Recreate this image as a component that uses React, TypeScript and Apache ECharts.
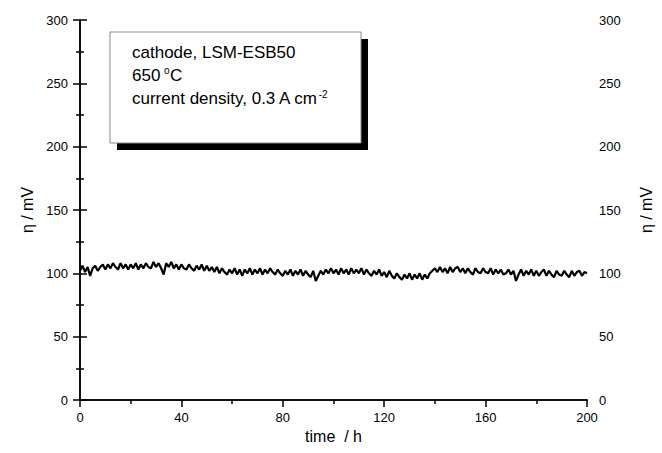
import React, { useEffect, useRef } from "react";
import * as echarts from "echarts";

const timeH: number[] = Array.from({ length: 201 }, (_, i) => i);
const etaMV: number[] = [
  102, 106, 101, 105, 98, 104, 106, 102, 105, 107,
  103, 107, 104, 108, 105, 103, 108, 104, 107, 103,
  107, 104, 108, 103, 107, 104, 108, 105, 104, 109,
  105, 108, 104, 99, 108, 105, 109, 104, 107, 103,
  107, 104, 103, 107, 104, 102, 106, 103, 107, 102,
  106, 102, 105, 101, 105, 100, 104, 101, 99, 103,
  100, 104, 99, 103, 98, 103, 100, 104, 99, 103,
  100, 104, 99, 103, 100, 104, 101, 99, 103, 100,
  98, 102, 99, 103, 98, 102, 99, 103, 98, 102,
  99, 97, 102, 94, 98, 102, 99, 103, 100, 104,
  100, 103, 99, 104, 100, 103, 99, 104, 100, 103,
  100, 104, 99, 103, 100, 98, 102, 99, 103, 98,
  101, 97, 102, 98, 96, 100, 97, 95, 99, 96,
  100, 95, 99, 96, 100, 95, 99, 96, 100, 102,
  104, 101, 105, 101, 104, 100, 105, 101, 104, 105,
  101, 104, 100, 104, 101, 99, 104, 101, 100, 104,
  101, 100, 104, 99, 103, 100, 103, 99, 100, 103,
  99, 102, 94, 99, 103, 98, 102, 99, 103, 98,
  102, 98, 101, 103, 98, 102, 99, 97, 102, 99,
  98, 102, 99, 97, 102, 98, 101, 102, 98, 101,
  100,
];
const xTicks = { min: 0, max: 200, interval: 40 };
const yTicks = { min: 0, max: 300, interval: 50 };

const FONT = "'Liberation Sans', Arial, Helvetica, sans-serif";

export default function App() {
  const ref = useRef<HTMLDivElement>(null);
  useEffect(() => {
    if (!ref.current) return;
    const chart = echarts.init(ref.current, undefined, { renderer: "svg" });
    const axisLine = { show: true, lineStyle: { color: "#000", width: 1.5 } };
    const yCommon = (pos: "left" | "right", gap: number) => ({
      type: "value" as const,
      position: pos,
      min: yTicks.min,
      max: yTicks.max,
      interval: yTicks.interval,
      name: "η / mV",
      nameLocation: "middle" as const,
      nameRotate: 90,
      nameGap: gap,
      nameTextStyle: { fontSize: 16, color: "#000", fontFamily: FONT },
      axisLine,
      axisTick: { show: true, inside: false, length: 7, lineStyle: { color: "#000", width: 1.5 } },
      minorTick: { show: true, splitNumber: 2, length: 4, lineStyle: { color: "#000", width: 1.5 } },
      axisLabel: { margin: 12, fontSize: 13, color: "#000", fontFamily: FONT },
      splitLine: { show: false },
    });
    const txt = (x: number, y: number, text: string, fontSize: number, extra: any = {}) => ({
      type: "text",
      x,
      y,
      z: 12,
      style: {
        text,
        fill: "#000",
        fontSize,
        fontFamily: FONT,
        verticalAlign: "middle",
        ...extra,
      },
    });
    chart.setOption({
      animation: false,
      backgroundColor: "#fff",
      grid: { left: 80, right: 69, top: 20, bottom: 53, containLabel: false },
      xAxis: [
        {
          type: "value",
          position: "bottom",
          min: xTicks.min,
          max: xTicks.max,
          interval: xTicks.interval,
          name: "time  / h",
          nameLocation: "middle",
          nameGap: 28,
          nameTextStyle: { fontSize: 16, color: "#000", fontFamily: FONT },
          axisLine,
          axisTick: { show: true, inside: false, length: 7, lineStyle: { color: "#000", width: 1.5 } },
          minorTick: { show: true, splitNumber: 2, length: 4, lineStyle: { color: "#000", width: 1.5 } },
          axisLabel: { margin: 11, fontSize: 13, color: "#000", fontFamily: FONT },
          splitLine: { show: false },
        },
        {
          type: "value",
          position: "top",
          min: xTicks.min,
          max: xTicks.max,
          axisLine,
          axisTick: { show: false },
          axisLabel: { show: false },
          splitLine: { show: false },
        },
      ],
      yAxis: [yCommon("left", 43), yCommon("right", 51)],
      series: [
        {
          type: "line",
          data: timeH.map((t, i) => [t, etaMV[i]]),
          showSymbol: false,
          lineStyle: { color: "#000", width: 2.2 },
          itemStyle: { color: "#000" },
        },
      ],
      graphic: [
        { type: "rect", shape: { x: 117, y: 39, width: 251, height: 111 }, style: { fill: "#000" }, z: 10 },
        {
          type: "rect",
          shape: { x: 110, y: 32, width: 251, height: 111 },
          style: { fill: "#fff", stroke: "#888", lineWidth: 1 },
          z: 11,
        },
        txt(132, 52, "cathode, LSM-ESB50", 17),
        txt(132, 75, "650", 17),
        txt(164, 70, "o", 10),
        txt(170, 75, "C", 17),
        txt(132, 98, "current density, 0.3 A cm{sup|-2}", 17, {
          rich: {
            sup: { fontSize: 10, fontFamily: FONT, fill: "#000", verticalAlign: "top", padding: [0, 0, 8, 0] },
          },
        }),
      ],
    });
    return () => chart.dispose();
  }, []);
  return (
    <div
      ref={ref}
      style={{ position: "fixed", left: 0, top: 0, width: 662, height: 453, background: "#fff" }}
    />
  );
}
